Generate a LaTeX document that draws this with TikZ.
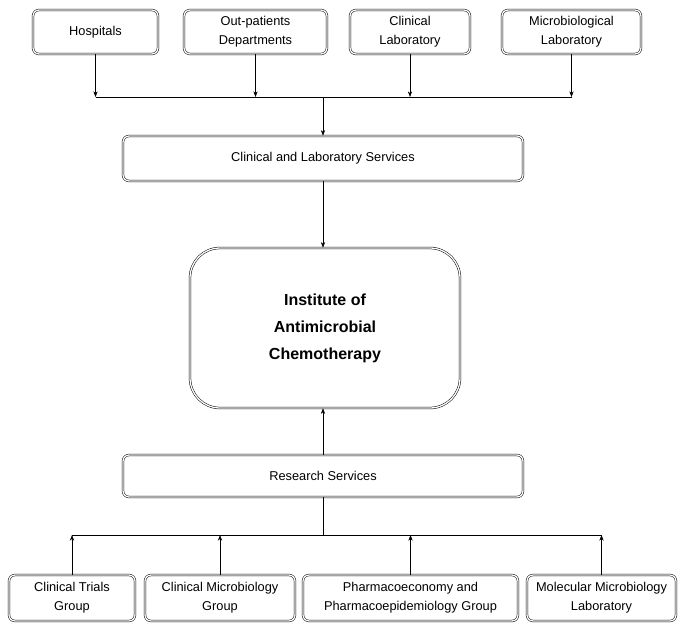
\documentclass[tikz,border=0pt]{standalone}
\usepackage{fontspec}
\setmainfont{Liberation Sans}
\usetikzlibrary{arrows.meta}
\tikzset{>=Stealth}
\tikzset{
  unit/.style={draw,double,double distance=1.3pt,line width=0.5pt,rounded corners=6pt,
    align=center,inner sep=0pt,font=\fontsize{12.8}{19}\selectfont},
  inst/.style={unit,rounded corners=30pt,font=\bfseries\fontsize{16}{27}\selectfont},
  link/.style={->,line width=0.6pt}
}

\begin{document}
\begin{tikzpicture}[x=1pt,y=-1pt]
\useasboundingbox (0,0) rectangle (687,631);
% sources
\node[unit,minimum width=125pt,minimum height=44pt] (hosp) at (95.5,32) {Hospitals};
\node[unit,minimum width=143pt,minimum height=44pt] (outp) at (255.5,32) {Out-patients\\Departments};
\node[unit,minimum width=120pt,minimum height=44pt] (clab) at (410,32) {Clinical\\Laboratory};
\node[unit,minimum width=139pt,minimum height=44pt] (mlab) at (571.5,32) {Microbiological\\Laboratory};

\node[unit,minimum width=400pt,minimum height=45pt] (cls) at (323,158.5) {Clinical and Laboratory Services};
\node[inst,minimum width=270pt,minimum height=160pt] (iac) at (325,328) {Institute of\\Antimicrobial\\Chemotherapy};
\node[unit,minimum width=400pt,minimum height=42pt] (rs) at (323,476) {Research Services};

% groups
\node[unit,minimum width=126pt,minimum height=46pt] (ctg) at (72,598) {Clinical Trials\\Group};
\node[unit,minimum width=150pt,minimum height=46pt] (cmg) at (220,598) {Clinical Microbiology\\Group};
\node[unit,minimum width=215pt,minimum height=46pt] (ppg) at (410.5,598) {Pharmacoeconomy and\\Pharmacoepidemiology Group};
\node[unit,minimum width=149pt,minimum height=46pt] (mml) at (601.5,598) {Molecular Microbiology\\Laboratory};

\coordinate (topbus) at (323,97);
\coordinate (botbus) at (323,535);

% top tree
\foreach \n in {hosp,outp,clab,mlab}
  \draw[link] (\n.south) -- (\n.south |- topbus);
\draw[line width=0.6pt] (hosp.south |- topbus) -- (mlab.south |- topbus);
\draw[link] (topbus) -- (cls.north);
\draw[link] (cls.south) -- (cls.south |- iac.north);

% bottom tree
\draw[link] (rs.north) -- (rs.north |- iac.south);
\draw[line width=0.6pt] (rs.south) -- (botbus);
\draw[line width=0.6pt] (ctg.north |- botbus) -- (mml.north |- botbus);
\foreach \n in {ctg,cmg,ppg,mml}
  \draw[link] (\n.north) -- (\n.north |- botbus);
\end{tikzpicture}
\end{document}
